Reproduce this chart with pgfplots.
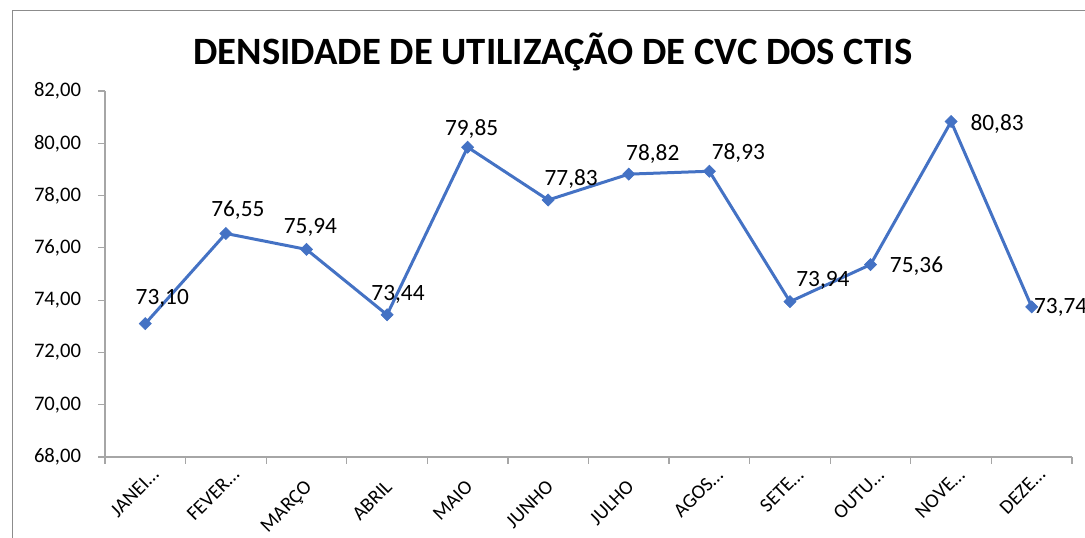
\documentclass[border=0pt]{standalone}
\usepackage{pgfplots}
\pgfplotsset{compat=1.18}
\usepackage{pgfplotstable}
\usepackage{fontspec}
\setmainfont{Carlito}
\definecolor{serie}{HTML}{4472C4}
\definecolor{axgray}{HTML}{A6A6A6}
\definecolor{bordergray}{HTML}{8C8C8C}
\newcommand\el[1]{\raisebox{2pt}[\height][0pt]{#1…}\kern-11pt\null}
\pgfplotstableread{
x y lab dx dy
0 73.10 73,10 17 25
1 76.55 76,55 12 23
2 75.94 75,94 4 22
3 73.44 73,44 11 20
4 79.85 79,85 4 18
5 77.83 77,83 23 21
6 78.82 78,82 24 20
7 78.93 78,93 29 18
8 73.94 73,94 33 21
9 75.36 75,36 46 -2
10 80.83 80,83 46 -2
11 73.74 73,74 29 0
}\data
\begin{document}
\begin{tikzpicture}
\begin{axis}[
  scale only axis,
  width=725.25pt, height=274.5pt,
  at={(0,0)}, anchor=south west,
  xmin=-0.5, xmax=11.5,
  ymin=68, ymax=82,
  ytick={68,70,...,82},
  axis x line*=bottom, axis y line*=left,
  axis line style={draw=axgray, line width=0.9pt},
  tick style={draw=axgray, line width=0.9pt},
  tick align=outside,
  major tick length=5pt,
  xtick={-0.5,0.5,...,11.5},
  xticklabels={},
  extra x ticks={0,1,...,11},
  extra x tick labels={\el{JANEI},\el{FEVER},MARÇO,ABRIL,MAIO,JUNHO,JULHO,\el{AGOS},\el{SETE},\el{OUTU},\el{NOVE},\el{DEZE}},
  extra x tick style={major tick length=0pt},
  xticklabel style={font=\fontsize{15}{18}\selectfont, xshift=-2.25pt, yshift=-16.5pt, rotate=45, anchor=north east, inner sep=0pt},
  yticklabel style={font=\fontsize{15.5}{18}\selectfont, inner sep=0pt, xshift=-12.75pt},
  /pgf/number format/.cd, fixed, fixed zerofill, precision=2, use comma, assume math mode=true,
  /pgfplots/.cd,
  clip=false,
]
\addplot[serie, line width=2.25pt, mark=square*, mark size=3.2pt,
  mark options={fill=serie, draw=serie, line width=0.5pt, rotate=45},
  point meta=explicit symbolic,
  visualization depends on={\thisrow{dx} \as \dx},
  visualization depends on={\thisrow{dy} \as \dy},
  nodes near coords,
  every node near coord/.append style={anchor=center, black, font=\fontsize{17.5}{20}\selectfont, xshift={\dx*0.75pt}, yshift={\dy*0.75pt}},
] table[x=x, y=y, meta=lab] {\data};
\end{axis}
\draw[bordergray, line width=0.75pt] (-69pt,-70pt) -- (-69pt,334.5pt) -- (740pt,334.5pt);
\node[font=\bfseries\fontsize{29}{33}\selectfont] at (336pt,303.75pt) {DENSIDADE DE UTILIZAÇÃO DE CVC DOS CTIS};
\pgfresetboundingbox
\useasboundingbox (-78.75pt,-60.75pt) rectangle (735pt,342.75pt);
\end{tikzpicture}
\end{document}
